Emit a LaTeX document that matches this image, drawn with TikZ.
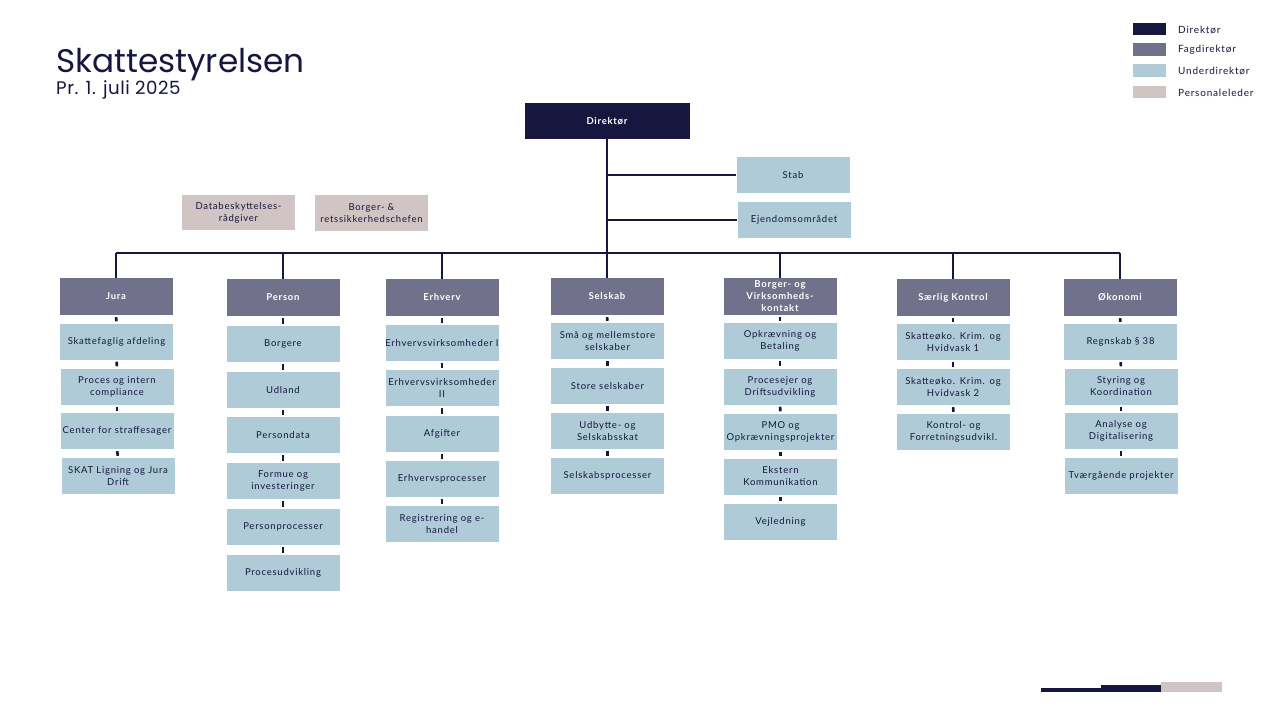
\documentclass[tikz,border=0pt]{standalone}
\usepackage{fontspec}
\setmainfont{Lato}
\newfontfamily\titlefont{Poppins}
\newfontfamily\datefont[LetterSpace=3]{Poppins}
\newfontfamily\boxfont[LetterSpace=8]{Lato}
\definecolor{navy}{HTML}{16163F}
\definecolor{fag}{HTML}{72718B}
\definecolor{under}{HTML}{AFCBD8}
\definecolor{pers}{HTML}{D0C5C4}
\tikzset{
  basebox/.style={rectangle, inner xsep=1pt, inner ysep=1pt, text width=111pt, minimum height=36pt, align=center, font=\boxfont\fontsize{9.5}{12}\selectfont},
  dirbox/.style={basebox, fill=navy, text=white, text width=163pt, font=\boxfont\bfseries\fontsize{9.5}{12}\selectfont},
  fagbox/.style={basebox, fill=fag, text=white, minimum height=37pt, font=\boxfont\bfseries\fontsize{9.5}{12}\selectfont},
  subbox/.style={basebox, fill=under, text=navy},
  persbox/.style={basebox, fill=pers, text=navy},
  bus/.style={draw=navy, line width=2pt},
  tick/.style={draw=navy, line width=2.6pt, shorten <=2pt, shorten >=2pt},
  legtxt/.style={anchor=west, text=navy, font=\boxfont\fontsize{10}{12}\selectfont, inner sep=0pt},
}
\begin{document}
\begin{tikzpicture}[x=1pt,y=-1pt]
\useasboundingbox (0,0) rectangle (1280,720);
% title
\node[anchor=base west, inner sep=0pt, text=navy, font=\titlefont\fontsize{32.7}{38}\selectfont] (title) at (56,72) {Skattestyrelsen};
\node[anchor=base west, inner sep=0pt, text=navy, font=\datefont\fontsize{18.2}{20}\selectfont] (date) at (56,94.5) {Pr. 1. juli 2025};
% legend
\fill[navy] (1133,23) rectangle (1166,35);
\fill[fag] (1133,43) rectangle (1166,56);
\fill[under] (1133,64) rectangle (1166,77);
\fill[pers] (1133,86) rectangle (1166,98);
\node[legtxt] (lt1) at (1178,30) {Direktør};
\node[legtxt] (lt2) at (1178,50) {Fagdirektør};
\node[legtxt] (lt3) at (1178,71) {Underdirektør};
\node[legtxt] (lt4) at (1178,93) {Personaleleder};
% bottom decoration
\fill[navy] (1041,688) rectangle (1101,691.5);
\fill[navy] (1101,684.5) rectangle (1161,691.5);
\fill[pers] (1161,681.5) rectangle (1222,691.5);
% top
\node[dirbox] (dir) at (607,121) {Direktør};
\node[subbox] (stab) at (793,175) {Stab};
\node[subbox] (ejd) at (794,220) {Ejendomsområdet};
\node[persbox, minimum height=35pt] (dbr) at (238.5,212.5) {Databeskyttelses-\\rådgiver};
\node[persbox] (brs) at (371.5,213) {Borger- \&\\retssikkerhedschefen};
\coordinate (busL) at (116,253);
\coordinate (busR) at (1120,253);
\draw[bus] (busL) -- (busR);
\draw[bus] (dir.south) -- (dir.south |- busL);
\draw[bus] (dir.south |- stab.west) -- (stab.west);
\draw[bus] (dir.south |- ejd.west) -- (ejd.west);
% headers
\node[fagbox] (h1) at (116,296.5) {Jura};
\node[fagbox] (h2) at (283,297.5) {Person};
\node[fagbox] (h3) at (442,297.5) {Erhverv};
\node[fagbox] (h4) at (607,296.5) {Selskab};
\node[fagbox] (h5) at (780,296.5) {Borger- og\\Virksomheds-\\kontakt};
\node[fagbox] (h6) at (953,297.5) {Særlig Kontrol};
\node[fagbox] (h7) at (1120,297.5) {Økonomi};
\foreach \h in {h1,h2,h3,h4,h5,h6,h7} \draw[bus] (\h.north |- busL) -- (\h.north);
% Jura
\node[subbox] (a1) at (116.5,341.5) {Skattefaglig afdeling};
\node[subbox] (a2) at (117,386.5) {Proces og intern\\compliance};
\node[subbox] (a3) at (117,431) {\makebox[\linewidth]{Center for straffesager}};
\node[subbox] (a4) at (118,476) {SKAT Ligning og Jura\\Drift};
% Person
\node[subbox] (b1) at (283,344) {Borgere};
\node[subbox] (b2) at (283,390) {Udland};
\node[subbox] (b3) at (283,435) {Persondata};
\node[subbox] (b4) at (283,481) {Formue og\\investeringer};
\node[subbox] (b5) at (283,527) {Personprocesser};
\node[subbox] (b6) at (283,573) {Procesudvikling};
% Erhverv
\node[subbox] (c1) at (442,343) {\makebox[\linewidth]{Erhvervsvirksomheder I}};
\node[subbox] (c2) at (442,388) {Erhvervsvirksomheder\\II};
\node[subbox] (c3) at (442,434) {Afgifter};
\node[subbox] (c4) at (442,479) {Erhvervsprocesser};
\node[subbox] (c5) at (442,524) {Registrering og e-\\handel};
% Selskab
\node[subbox] (d1) at (607.5,341) {Små og mellemstore\\selskaber};
\node[subbox] (d2) at (607.5,386) {Store selskaber};
\node[subbox] (d3) at (607.5,431) {Udbytte- og\\Selskabsskat};
\node[subbox] (d4) at (607.5,476) {Selskabsprocesser};
% BVK
\node[subbox] (e1) at (780,341) {Opkrævning og\\Betaling};
\node[subbox] (e2) at (780,386.5) {Procesejer og\\Driftsudvikling};
\node[subbox] (e3) at (780.5,431.5) {PMO og\\\makebox[\linewidth]{Opkrævningsprojekter}};
\node[subbox] (e4) at (780.5,476.5) {Ekstern\\Kommunikation};
\node[subbox] (e5) at (780.5,521.5) {Vejledning};
% SK
\node[subbox] (f1) at (953,342) {Skatteøko. Krim. og\\Hvidvask 1};
\node[subbox] (f2) at (953,387) {Skatteøko. Krim. og\\Hvidvask 2};
\node[subbox] (f3) at (953.5,432) {Kontrol- og\\Forretningsudvikl.};
% Okonomi
\node[subbox] (g1) at (1120.5,342) {Regnskab § 38};
\node[subbox] (g2) at (1121,386.5) {Styring og\\Koordination};
\node[subbox] (g3) at (1121,431) {Analyse og\\Digitalisering};
\node[subbox] (g4) at (1121,476) {\makebox[\linewidth]{Tværgående projekter}};
% ticks
\foreach \p/\q in {h1/a1,a1/a2,a2/a3,a3/a4,
  h2/b1,b1/b2,b2/b3,b3/b4,b4/b5,b5/b6,
  h3/c1,c1/c2,c2/c3,c3/c4,c4/c5,
  h4/d1,d1/d2,d2/d3,d3/d4,
  h5/e1,e1/e2,e2/e3,e3/e4,e4/e5,
  h6/f1,f1/f2,f2/f3,
  h7/g1,g1/g2,g2/g3,g3/g4}
  \draw[tick] (\p.south) -- (\q.north);
\end{tikzpicture}
\end{document}
